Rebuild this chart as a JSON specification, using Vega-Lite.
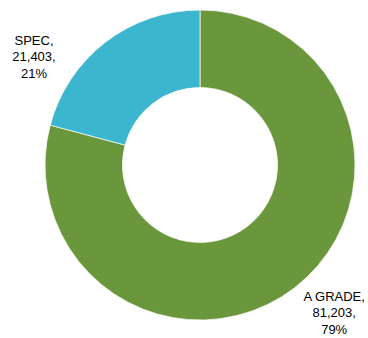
{
  "$schema": "https://vega.github.io/schema/vega-lite/v6.json",
  "width": 336,
  "height": 330,
  "autosize": "none",
  "padding": {"left": 32, "top": 0, "right": 0, "bottom": 8},
  "background": "white",
  "view": {"stroke": null},
  "data": {"values": [
    {"category": "A GRADE", "value": 81203, "pct": 79},
    {"category": "SPEC", "value": 21403, "pct": 21}
  ]},
  "transform": [
    {"calculate": "datum.category + ',\\n' + format(datum.value, ',') + ',\\n' + datum.pct + '%'", "as": "label"}
  ],
  "encoding": {
    "theta": {"field": "value", "type": "quantitative", "stack": true},
    "order": {"field": "category", "type": "nominal"}
  },
  "layer": [
    {
      "mark": {"type": "arc", "outerRadius": 155, "innerRadius": 77.5, "stroke": "white", "strokeWidth": 0.7},
      "encoding": {
        "color": {"field": "category", "type": "nominal", "scale": {"domain": ["A GRADE", "SPEC"], "range": ["#6a963c", "#3cb5cf"]}, "legend": null}
      }
    },
    {
      "mark": {"type": "text", "radius": 200, "thetaOffset": -0.08, "dy": -16.5, "align": "center", "baseline": "middle", "font": "Liberation Sans", "fontSize": 13, "lineHeight": 16.5, "lineBreak": "\n", "color": "black"},
      "encoding": {
        "text": {"condition": {"test": "datum.category === 'A GRADE'", "field": "label"}, "value": ""}
      }
    },
    {
      "mark": {"type": "text", "radius": 198, "thetaOffset": -0.339, "dy": -16.5, "align": "center", "baseline": "middle", "font": "Liberation Sans", "fontSize": 13, "lineHeight": 16.5, "lineBreak": "\n", "color": "black"},
      "encoding": {
        "text": {"condition": {"test": "datum.category === 'SPEC'", "field": "label"}, "value": ""}
      }
    }
  ]
}
